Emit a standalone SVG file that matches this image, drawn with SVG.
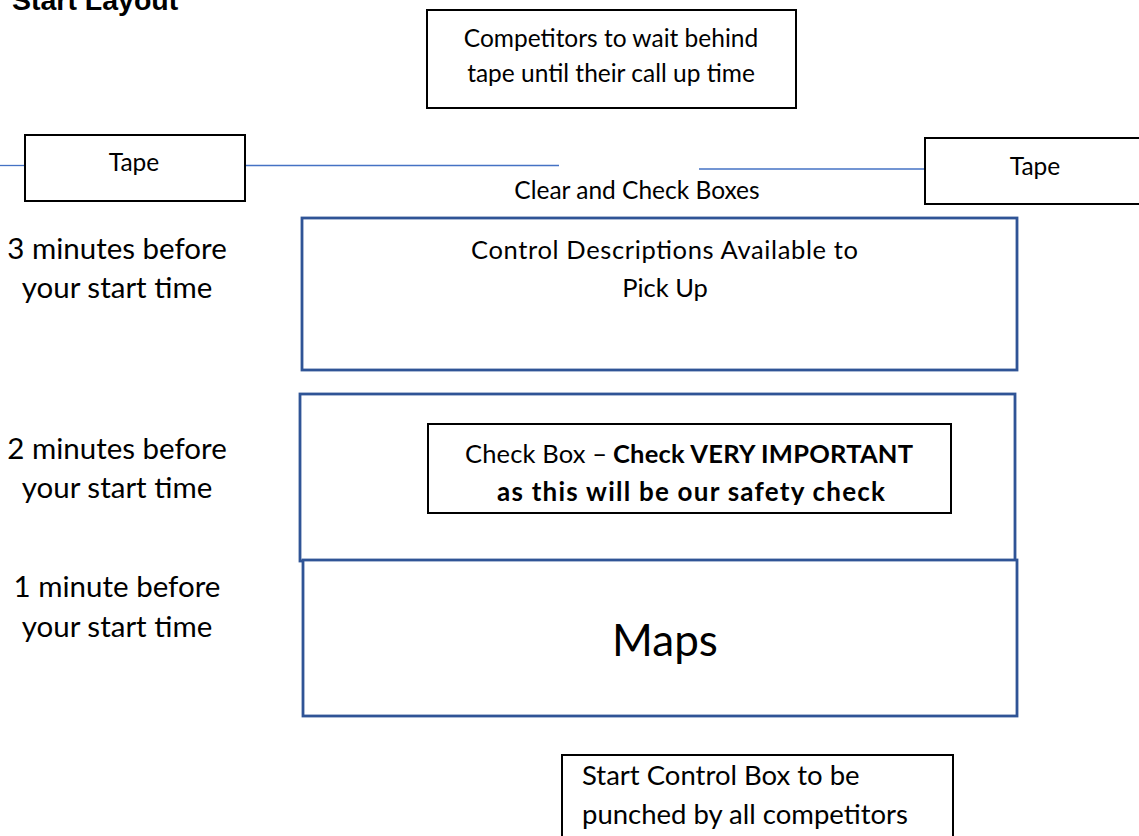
<svg xmlns="http://www.w3.org/2000/svg" width="1139" height="836" viewBox="0 0 1139 836">
<style>
  .t { font-family: Lato, "Open Sans", sans-serif; fill: #000; }
  .box { font-size: 24.5px; }
  .lbl { font-size: 29.5px; }
  .blk { fill: #fff; stroke: #000; stroke-width: 2; }
  .blu { fill: #fff; stroke: #2F5496; stroke-width: 2.8; }
  .tape { stroke: #4472C4; stroke-width: 1.3; fill: none; }
</style>
<rect width="1139" height="836" fill="#fff"/>
<text x="12" y="10" font-family="Liberation Sans, Arial, sans-serif" font-weight="bold" font-size="28.5">Start Layout</text>

<g id="connectors">
  <line class="tape" x1="0" y1="165.5" x2="25" y2="165.5"/>
  <line class="tape" x1="245" y1="165.5" x2="559" y2="165.5"/>
  <line class="tape" x1="699" y1="169" x2="925" y2="169"/>
</g>

<g id="competitors-wait">
  <rect class="blk" x="427" y="10" width="369" height="98"/>
  <text class="t box" x="611" y="47" text-anchor="middle">Competitors to wait behind</text>
  <text class="t box" x="611" y="82" text-anchor="middle">tape until their call up time</text>
</g>

<g id="tape-left">
  <rect class="blk" x="25" y="135" width="220" height="66"/>
  <text class="t box" x="134" y="171" text-anchor="middle">Tape</text>
</g>

<g id="tape-right">
  <rect class="blk" x="925" y="138" width="230" height="66"/>
  <text class="t box" x="1035" y="175" text-anchor="middle">Tape</text>
</g>

<g id="clear-check">
  <text class="t box" x="637" y="199" text-anchor="middle">Clear and Check Boxes</text>
</g>

<g id="label-3min">
  <text class="t lbl" x="117" y="259" text-anchor="middle">3 minutes before</text>
  <text class="t lbl" x="117" y="298" text-anchor="middle">your start time</text>
</g>
<g id="label-2min">
  <text class="t lbl" x="117" y="459" text-anchor="middle">2 minutes before</text>
  <text class="t lbl" x="117" y="498" text-anchor="middle">your start time</text>
</g>
<g id="label-1min">
  <text class="t lbl" x="117" y="597" text-anchor="middle">1 minute before</text>
  <text class="t lbl" x="117" y="637" text-anchor="middle">your start time</text>
</g>

<g id="control-descriptions">
  <rect class="blu" x="302" y="218" width="715" height="152"/>
  <text class="t" x="471" y="259" font-size="25.5" textLength="387">Control Descriptions Available to</text>
  <text class="t" x="665" y="297" text-anchor="middle" font-size="25.5">Pick Up</text>
</g>

<g id="check-zone">
  <rect class="blu" x="300" y="394" width="715" height="167"/>
</g>

<g id="maps">
  <rect class="blu" x="303" y="560" width="714" height="156"/>
  <text class="t" x="665" y="656" text-anchor="middle" font-size="44">Maps</text>
</g>

<g id="check-box">
  <rect class="blk" x="428" y="424" width="523" height="89"/>
  <text class="t" y="463" font-size="25.5"><tspan x="465" textLength="142">Check Box –</tspan><tspan x="613" font-weight="bold" textLength="300">Check VERY IMPORTANT</tspan></text>
  <text class="t" x="497" y="501" font-size="26" font-weight="bold" textLength="388">as this will be our safety check</text>
</g>

<g id="start-control">
  <rect class="blk" x="562" y="755" width="391" height="100"/>
  <text class="t" x="582" y="785" font-size="27.5">Start Control Box to be</text>
  <text class="t" x="582" y="824" font-size="27.5">punched by all competitors</text>
</g>
</svg>
